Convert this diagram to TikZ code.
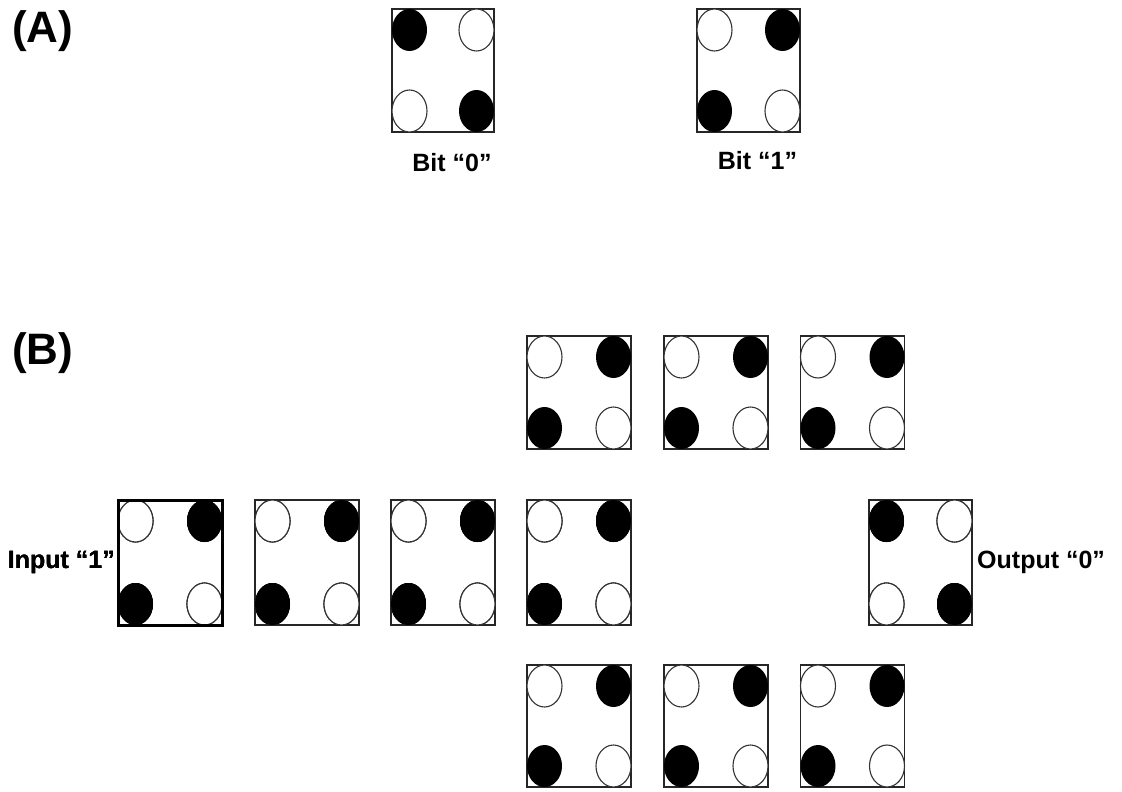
\documentclass[tikz,border=0pt]{standalone}
\usepackage{fontspec}
\setmainfont{Liberation Sans}
\usetikzlibrary{positioning,calc}

\tikzset{
  cellframe/.style={draw=black!85, line width=1.1pt, inner sep=0pt, outer sep=0pt},
  thickframe/.style={draw=black, line width=3pt},
  dotfull/.style={fill=black},
  dotempty/.style={draw=black!80, line width=1.1pt, fill=white},
  % bit 0: full on the main diagonal, bit 1: full on the other one
  dot0a/.style={dotfull}, dot0b/.style={dotempty},
  dot1a/.style={dotempty}, dot1b/.style={dotfull},
  lbl/.style={font=\fontsize{25}{28}\selectfont\bfseries, inner sep=0pt},
  part/.style={font=\fontsize{44}{50}\selectfont\bfseries, inner sep=0pt, anchor=north west},
}

% cellule : [style], nom, x, y, largeur, hauteur, bit
\newcommand{\qcell}[7][]{%
  \node[cellframe, #1, minimum width=#5pt, minimum height=#6pt] (#2) at (#3,#4) {};
  \path[dot#7a] ($(#2.north west)+(17.5,21)$) ellipse [x radius=17.5, y radius=21];
  \path[dot#7b] ($(#2.north east)+(-17.5,21)$) ellipse [x radius=17.5, y radius=21];
  \path[dot#7b] ($(#2.south west)+(17.5,-21)$) ellipse [x radius=17.5, y radius=21];
  \path[dot#7a] ($(#2.south east)+(-17.5,-21)$) ellipse [x radius=17.5, y radius=21];
}

\begin{document}
\begin{tikzpicture}[x=1pt, y=-1pt]
  \useasboundingbox (0,0) rectangle (1122,792);
  % (A) codage des bits
  \node[part] (partA) at (12,10) {(A)};
  \qcell{a0}{443}{70.5}{102}{123}{0}
  \qcell{a1}{748.5}{70.5}{103}{123}{1}
  \node[lbl, below=21pt of a0, xshift=9pt] (bit0) {Bit “0”};
  \node[lbl, below=19pt of a1, xshift=9pt] (bit1) {Bit “1”};
  % (B) propagation
  \node[part] (partB) at (12,332) {(B)};
  % rangée du haut
  \foreach \n/\x in {t1/579, t2/716, t3/852.5}
    \qcell{\n}{\x}{392.5}{104}{113}{1}
  % rangée du milieu
  \qcell{m2}{307}{562.5}{104}{125}{1}
  \qcell{m3}{443}{562.5}{104}{125}{1}
  \qcell{m4}{579}{562.5}{104}{125}{1}
  \qcell{out}{920.5}{562.5}{103}{125}{0}
  \qcell{inp}{170}{562.5}{104}{125}{1}
  \draw[thickframe] (inp.north west) rectangle (inp.south east);
  % rangée du bas
  \foreach \n/\x in {b1/579, b2/716, b3/852.5}
    \qcell{\n}{\x}{726}{104}{122}{1}
  % Annotations
  \node[lbl, left=3pt of inp] (inlab) {Input “1”};
  \node[lbl, right=5pt of out] (outlab) {Output “0”};
\end{tikzpicture}
\end{document}
